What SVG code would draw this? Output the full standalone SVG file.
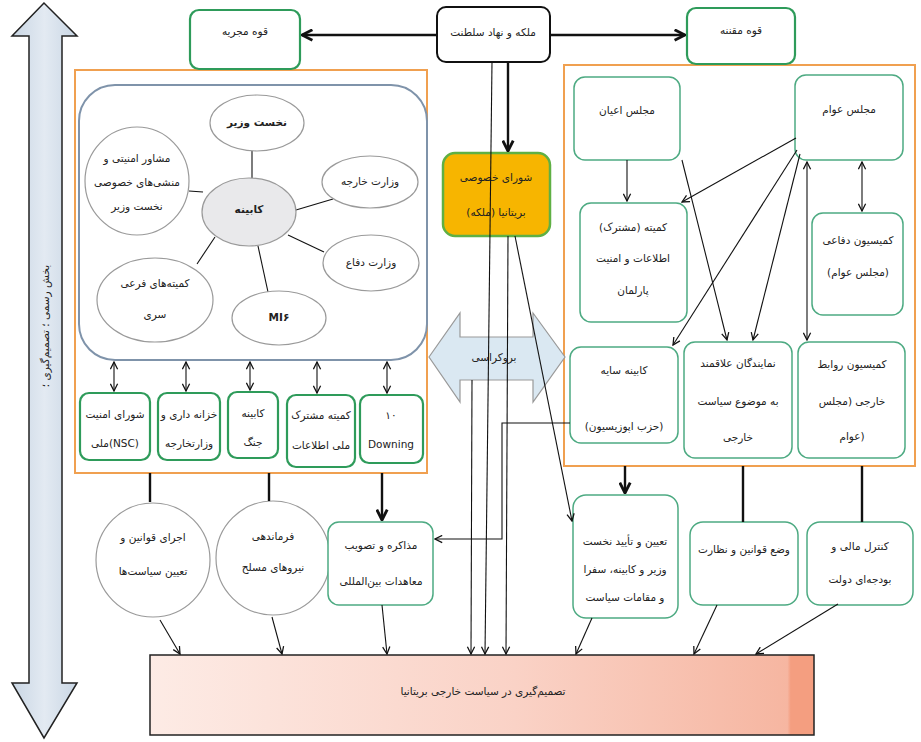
<svg xmlns="http://www.w3.org/2000/svg" width="921" height="742" viewBox="0 0 921 742">
<defs>
<style>
.t{font-family:"DejaVu Sans",sans-serif;font-size:10.5px;fill:#222;text-anchor:middle;dominant-baseline:middle}
.g{fill:#fff;stroke:#2E9B5A;stroke-width:2.2}
.gt{fill:#fff;stroke:#4DAA82;stroke-width:1.5}
.el{fill:#fff;stroke:#9a9a9a;stroke-width:1.2}
.ln{stroke:#111;stroke-width:1.1;fill:none}
.tk{stroke:#111;stroke-width:2.4;fill:none}
.or{fill:#fff;stroke:#F0A050;stroke-width:2}
</style>
<marker id="a" viewBox="0 0 10 10" refX="9" refY="5" markerWidth="9" markerHeight="9" markerUnits="userSpaceOnUse" orient="auto-start-reverse"><path d="M1,1 L9,5 L1,9" fill="none" stroke="#111" stroke-width="1.4"/></marker>
<marker id="b" viewBox="0 0 10 10" refX="9" refY="5" markerWidth="13" markerHeight="13" markerUnits="userSpaceOnUse" orient="auto-start-reverse"><path d="M1,1 L9,5 L1,9" fill="none" stroke="#111" stroke-width="2.2"/></marker>
<linearGradient id="bar" x1="0" y1="0" x2="1" y2="0">
<stop offset="0" stop-color="#FDEBE5"/><stop offset="0.55" stop-color="#FAD2C6"/><stop offset="0.96" stop-color="#F6B6A1"/><stop offset="0.965" stop-color="#F49E80"/><stop offset="1" stop-color="#F49E80"/>
</linearGradient>
<linearGradient id="la" x1="0" y1="0" x2="1" y2="0">
<stop offset="0" stop-color="#C9D6E4"/><stop offset="0.5" stop-color="#E3EAF2"/><stop offset="1" stop-color="#C9D6E4"/>
</linearGradient>
</defs>
<rect width="921" height="742" fill="#fff"/>

<g id="side-arrow">
<polygon points="44,3 12,36 29,36 29,683 12,683 44,738 77,683 62,683 62,36 77,36" fill="url(#la)" stroke="#222" stroke-width="1.5"/>
<text class="t" transform="translate(46,326) rotate(-90)" font-size="11.5">بخش رسمی ؛ تصمیم‌گیری ؛</text>
</g>

<g id="containers">
<rect x="75" y="70" width="352" height="403" class="or"/>
<rect x="564" y="65" width="351" height="401" class="or"/>
</g>

<g id="cabinet-box">
<rect x="79" y="85" width="348" height="275" rx="36" fill="#fff" stroke="#7F93AA" stroke-width="2"/>
</g>

<g id="cabinet-links" class="ln">
<line x1="252" y1="151" x2="252" y2="178"/>
<line x1="296" y1="210" x2="333" y2="199"/>
<line x1="189" y1="191" x2="203" y2="192"/>
<line x1="288" y1="235" x2="324" y2="252"/>
<line x1="215" y1="237" x2="197" y2="264"/>
<line x1="258" y1="246" x2="268" y2="292"/>
</g>

<g id="n-pm"><ellipse cx="257" cy="123" rx="47" ry="28" class="el"/><text class="t" x="257" y="123" font-size="12" font-weight="bold">نخست وزیر</text></g>
<g id="n-fo"><ellipse cx="370" cy="182" rx="48" ry="26" class="el"/><text class="t" x="370" y="182" font-size="11">وزارت خارجه</text></g>
<g id="n-adv"><ellipse cx="137" cy="181" rx="52" ry="54" class="el"/>
<text class="t" x="137" y="159" font-size="8.5">مشاور امنیتی و</text>
<text class="t" x="137" y="183" font-size="8.5">منشی‌های خصوصی</text>
<text class="t" x="137" y="207" font-size="8.5">نخست وزیر</text></g>
<g id="n-cab"><ellipse cx="249" cy="212" rx="47" ry="34" fill="#E9E9EB" stroke="#9a9a9a" stroke-width="1.2"/><text class="t" x="249" y="210" font-size="12" font-weight="bold">کابینه</text></g>
<g id="n-def"><ellipse cx="371" cy="263" rx="48" ry="28" class="el"/><text class="t" x="371" y="263" font-size="11">وزارت دفاع</text></g>
<g id="n-sub"><ellipse cx="155" cy="300" rx="58" ry="42" class="el"/>
<text class="t" x="155" y="284" font-size="9">کمیته‌های فرعی</text>
<text class="t" x="155" y="315" font-size="9">سری</text></g>
<g id="n-mi6"><ellipse cx="279" cy="318" rx="47" ry="27" class="el"/><text class="t" x="279" y="318" font-size="14" font-weight="bold">MI۶</text></g>

<g id="n-nsc"><rect x="80" y="393" width="70" height="67" rx="9" class="g"/>
<text class="t" x="115" y="415" font-size="9">شورای امنیت</text><text class="t" x="115" y="444" font-size="9">ملی(NSC)</text></g>
<g id="n-tre"><rect x="158" y="393" width="62" height="67" rx="9" class="g"/>
<text class="t" x="189" y="415" font-size="9">خزانه داری و</text><text class="t" x="189" y="444" font-size="9">وزارتخارجه</text></g>
<g id="n-war"><rect x="228" y="392" width="50" height="66" rx="9" class="g"/>
<text class="t" x="253" y="414" font-size="9">کابینه</text><text class="t" x="253" y="443" font-size="9">جنگ</text></g>
<g id="n-jic"><rect x="287" y="395" width="68" height="72" rx="9" class="g"/>
<text class="t" x="321" y="416" font-size="9">کمیته مشترک</text><text class="t" x="321" y="446" font-size="9">ملی اطلاعات</text></g>
<g id="n-dow"><rect x="360" y="395" width="63" height="68" rx="9" class="g"/>
<text class="t" x="391" y="416" font-size="9">۱۰</text><text class="t" x="391" y="445" font-family="Liberation Sans, sans-serif">Downing</text></g>

<g id="n-exec"><rect x="190" y="10" width="110" height="59" rx="9" class="g"/><text class="t" x="245" y="32">قوه مجریه</text></g>
<g id="n-mon"><rect x="437" y="7" width="113" height="55" rx="9" fill="#fff" stroke="#111" stroke-width="2"/><text class="t" x="493" y="33">ملکه و نهاد سلطنت</text></g>
<g id="n-leg"><rect x="687" y="8" width="108" height="56" rx="9" class="g"/><text class="t" x="741" y="31">قوه مقننه</text></g>

<g id="n-privy"><rect x="443" y="153" width="107" height="83" rx="12" fill="#F7B500" stroke="#5FB044" stroke-width="2.5"/>
<text class="t" x="496" y="178" font-size="12" fill="#4a2e00">شورای خصوصی</text>
<text class="t" x="496" y="213" font-size="11" fill="#4a2e00">بریتانیا (ملکه)</text></g>

<g id="n-bur"><polygon points="429,357 460,313 460,337 533,337 533,313 565,357 533,402 533,380 460,380 460,402" fill="#DAE8F2" stroke="#999" stroke-width="1.2"/>
<text class="t" x="494" y="358">بروکراسی</text></g>

<g id="n-lords"><rect x="574" y="77" width="106" height="83" rx="11" class="gt"/><text class="t" x="627" y="111">مجلس اعیان</text></g>
<g id="n-commons"><rect x="795" y="75" width="108" height="85" rx="11" class="gt"/><text class="t" x="849" y="110">مجلس عوام</text></g>
<g id="n-isc"><rect x="580" y="203" width="107" height="119" rx="11" class="gt"/>
<text class="t" x="633" y="228">کمیته (مشترک)</text><text class="t" x="633" y="259">اطلاعات و امنیت</text><text class="t" x="633" y="291">پارلمان</text></g>
<g id="n-dc"><rect x="812" y="213" width="91" height="102" rx="11" class="gt"/>
<text class="t" x="858" y="241">کمیسیون دفاعی</text><text class="t" x="858" y="273">(مجلس عوام)</text></g>
<g id="n-shadow"><rect x="570" y="347" width="108" height="96" rx="11" class="gt"/>
<text class="t" x="624" y="371">کابینه سایه</text><text class="t" x="624" y="427">(حزب اپوزیسیون)</text></g>
<g id="n-mps"><rect x="684" y="342" width="108" height="116" rx="11" class="gt"/>
<text class="t" x="738" y="364">نمایندگان علاقمند</text><text class="t" x="738" y="402">به موضوع سیاست</text><text class="t" x="738" y="438">خارجی</text></g>
<g id="n-fac"><rect x="798" y="342" width="107" height="116" rx="11" class="gt"/>
<text class="t" x="852" y="365">کمیسیون روابط</text><text class="t" x="852" y="402">خارجی (مجلس</text><text class="t" x="852" y="437">عوام)</text></g>

<g id="n-exe"><circle cx="153" cy="560" r="57" class="el"/>
<text class="t" x="153" y="538">اجرای قوانین و</text><text class="t" x="153" y="572">تعیین سیاست‌ها</text></g>
<g id="n-cmd"><circle cx="273" cy="558" r="57" class="el"/>
<text class="t" x="273" y="537">فرماندهی</text><text class="t" x="273" y="568">نیروهای مسلح</text></g>
<g id="n-treaty"><rect x="328" y="522" width="105" height="83" rx="11" class="gt"/>
<text class="t" x="381" y="546">مذاکره و تصویب</text><text class="t" x="381" y="582">معاهدات بین‌المللی</text></g>
<g id="n-appoint"><rect x="573" y="495" width="105" height="123" rx="13" class="gt"/>
<text class="t" x="625" y="542" font-size="9.5">تعیین و تأیید نخست</text><text class="t" x="625" y="570" font-size="9.5">وزیر و کابینه، سفرا</text><text class="t" x="625" y="598" font-size="9.5">و مقامات سیاست</text></g>
<g id="n-law"><rect x="690" y="522" width="108" height="83" rx="13" class="gt"/>
<text class="t" x="744" y="550">وضع قوانین و نظارت</text></g>
<g id="n-fin"><rect x="807" y="522" width="106" height="83" rx="13" class="gt"/>
<text class="t" x="860" y="547">کنترل مالی و</text><text class="t" x="860" y="580">بودجه‌ای دولت</text></g>

<g id="n-bar"><rect x="150" y="655" width="664" height="80" fill="url(#bar)" stroke="#222" stroke-width="1.5"/>
<text class="t" x="483" y="692" font-size="13">تصمیم‌گیری در سیاست خارجی بریتانیا</text></g>

<g id="connectors">
<line class="tk" x1="437" y1="35" x2="302" y2="35" marker-end="url(#b)"/>
<line class="tk" x1="550" y1="35" x2="685" y2="35" marker-end="url(#b)"/>
<line class="tk" x1="508" y1="62" x2="508" y2="151" marker-end="url(#b)"/>
<line class="ln" x1="492" y1="62" x2="485" y2="654" marker-end="url(#a)"/>
<line class="ln" x1="508" y1="236" x2="506" y2="654" marker-end="url(#a)"/>
<line class="ln" x1="472" y1="380" x2="471" y2="654" marker-end="url(#a)"/>
<line class="ln" x1="515" y1="236" x2="572" y2="521" marker-end="url(#a)"/>
<polyline class="ln" points="570,423 502,423 502,539 435,539" marker-end="url(#a)"/>

<line class="ln" x1="114" y1="362" x2="114" y2="391" marker-start="url(#a)" marker-end="url(#a)"/>
<line class="ln" x1="186" y1="362" x2="186" y2="391" marker-start="url(#a)" marker-end="url(#a)"/>
<line class="ln" x1="250" y1="362" x2="250" y2="390" marker-start="url(#a)" marker-end="url(#a)"/>
<line class="ln" x1="317" y1="362" x2="317" y2="393" marker-start="url(#a)" marker-end="url(#a)"/>
<line class="ln" x1="387" y1="362" x2="387" y2="393" marker-start="url(#a)" marker-end="url(#a)"/>

<line class="ln" x1="627" y1="160" x2="627" y2="201" marker-end="url(#a)"/>
<line class="ln" x1="862" y1="162" x2="862" y2="211" marker-start="url(#a)" marker-end="url(#a)"/>
<line class="ln" x1="796" y1="138" x2="682" y2="202" marker-end="url(#a)"/>
<line class="ln" x1="682" y1="160" x2="727" y2="340" marker-end="url(#a)"/>
<line class="ln" x1="797" y1="150" x2="673" y2="345" marker-end="url(#a)"/>
<line class="ln" x1="800" y1="154" x2="753" y2="340" marker-end="url(#a)"/>
<line class="ln" x1="807" y1="162" x2="807" y2="340" marker-start="url(#a)" marker-end="url(#a)"/>

<line class="tk" x1="150" y1="473" x2="150" y2="502"/>
<line class="tk" x1="269" y1="473" x2="269" y2="501"/>
<line class="tk" x1="382" y1="473" x2="382" y2="520" marker-end="url(#b)"/>
<line class="tk" x1="625" y1="466" x2="625" y2="493" marker-end="url(#b)"/>
<line class="tk" x1="743" y1="466" x2="743" y2="522"/>
<line class="tk" x1="862" y1="466" x2="862" y2="522"/>

<line class="ln" x1="160" y1="620" x2="180" y2="654" marker-end="url(#a)"/>
<line class="ln" x1="272" y1="617" x2="282" y2="654" marker-end="url(#a)"/>
<line class="ln" x1="382" y1="605" x2="387" y2="654" marker-end="url(#a)"/>
<line class="ln" x1="592" y1="618" x2="576" y2="654" marker-end="url(#a)"/>
<line class="ln" x1="717" y1="605" x2="694" y2="654" marker-end="url(#a)"/>
<line class="ln" x1="838" y1="604" x2="756" y2="654" marker-end="url(#a)"/>
</g>
</svg>
